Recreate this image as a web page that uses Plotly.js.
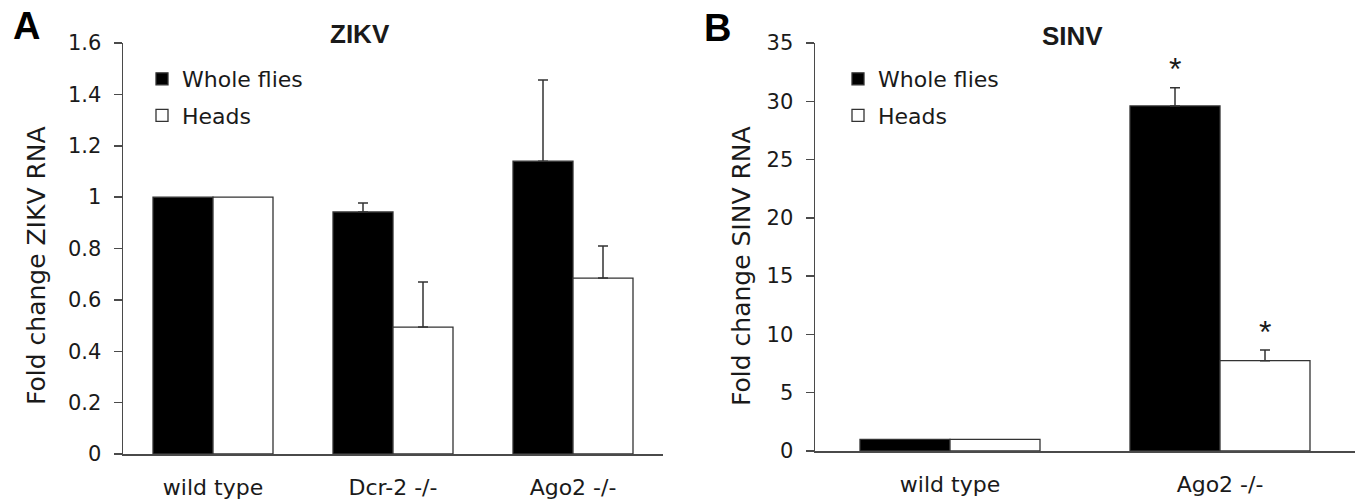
<!DOCTYPE html>
<html>
<head>
<meta charset="utf-8">
<script src="https://cdn.plot.ly/plotly-3.0.1.min.js"></script>
<style>html,body{margin:0;padding:0;background:#fff;}#chart{width:1360px;height:502px;}</style>
</head>
<body>
<div id="chart"></div>
<script>
// ---- data ----
const categoriesA = ['wild type', 'Dcr-2 -/-', 'Ago2 -/-'];
const wholeA = [1.00, 0.942, 1.14];
const wholeErrA = [NaN, 0.035, 0.316];
const headsA = [1.00, 0.494, 0.685];
const headsErrA = [NaN, 0.176, 0.125];

const categoriesB = ['wild type', 'Ago2 -/-'];
const wholeB = [1.00, 29.6];
const wholeErrB = [NaN, 1.57];
const headsB = [1.00, 7.75];
const headsErrB = [NaN, 0.91];
const sigWholeB = [false, true];
const sigHeadsB = [false, true];

const seriesNames = ['Whole flies', 'Heads'];
const yTicksA = [0, 0.2, 0.4, 0.6, 0.8, 1, 1.2, 1.4, 1.6];
const yTicksB = [0, 5, 10, 15, 20, 25, 30, 35];
const yTitleA = 'Fold change ZIKV RNA';
const yTitleB = 'Fold change SINV RNA';

// ---- style ----
const FONT = 'DejaVu Sans, Liberation Sans, Arial, sans-serif';
const BOLD = 'Liberation Sans, Arial, sans-serif';
const TXT = '#1a1a1a';
const AX = '#4a4a4a';
const BARGAP = 1/3;

function err(arr) {
  return {type: 'data', symmetric: false, array: arr, color: '#333', thickness: 1.5, width: 5};
}
function bar(name, cats, vals, errs, fill, xa, ya, legend, group) {
  return {
    type: 'bar', name: name, x: cats, y: vals, xaxis: xa, yaxis: ya,
    marker: {color: fill, line: {color: '#333', width: 1.3}},
    error_y: err(errs), legend: legend, showlegend: true, legendgroup: group,
    hoverinfo: 'x+y+name'
  };
}

const data = [
  bar(seriesNames[0], categoriesA, wholeA, wholeErrA, '#000000', 'x', 'y', 'legend', 'a1'),
  bar(seriesNames[1], categoriesA, headsA, headsErrA, '#ffffff', 'x', 'y', 'legend', 'a2'),
  bar(seriesNames[0], categoriesB, wholeB, wholeErrB, '#000000', 'x2', 'y2', 'legend2', 'b1'),
  bar(seriesNames[1], categoriesB, headsB, headsErrB, '#ffffff', 'x2', 'y2', 'legend2', 'b2')
];

// significance stars placed above error bars (bar offset derived from bargap)
const half = (1 - BARGAP) / 4;
const annotations = [];
categoriesB.forEach((c, i) => {
  if (sigWholeB[i]) annotations.push({xref: 'x2', yref: 'y2', x: i - half, y: wholeB[i] + wholeErrB[i],
    text: '*', showarrow: false, yanchor: 'bottom', yshift: -1, font: {family: BOLD, size: 32, color: TXT}});
  if (sigHeadsB[i]) annotations.push({xref: 'x2', yref: 'y2', x: i + half, y: headsB[i] + headsErrB[i],
    text: '*', showarrow: false, yanchor: 'bottom', yshift: -2, font: {family: BOLD, size: 32, color: TXT}});
});
// panel letters, titles, y-axis titles
annotations.push(
  {xref: 'paper', yref: 'paper', x: 26/1360, y: 1 - 26/502, text: '<b>A</b>', showarrow: false,
   xanchor: 'center', yanchor: 'middle', font: {family: BOLD, size: 38, color: '#000'}},
  {xref: 'paper', yref: 'paper', x: 717/1360, y: 1 - 28/502, text: '<b>B</b>', showarrow: false,
   xanchor: 'center', yanchor: 'middle', font: {family: BOLD, size: 38, color: '#000'}},
  {xref: 'paper', yref: 'paper', x: 360/1360, y: 1 - 34/502, text: '<b>ZIKV</b>', showarrow: false,
   xanchor: 'center', yanchor: 'middle', font: {family: BOLD, size: 26, color: TXT}},
  {xref: 'paper', yref: 'paper', x: 1072/1360, y: 1 - 36/502, text: '<b>SINV</b>', showarrow: false,
   xanchor: 'center', yanchor: 'middle', font: {family: BOLD, size: 26, color: TXT}},
  {xref: 'paper', yref: 'paper', x: 36/1360, y: 1 - 266/502, text: yTitleA, textangle: -90, showarrow: false,
   xanchor: 'center', yanchor: 'middle', font: {family: FONT, size: 25, color: TXT}},
  {xref: 'paper', yref: 'paper', x: 741/1360, y: 1 - 266/502, text: yTitleB, textangle: -90, showarrow: false,
   xanchor: 'center', yanchor: 'middle', font: {family: FONT, size: 25, color: TXT}}
);

function yax(domain, range, ticks, anchor) {
  return {
    domain: domain, range: range, tickvals: ticks, ticktext: ticks.map(String), anchor: anchor,
    showline: true, linecolor: AX, linewidth: 1.5, ticks: 'outside', ticklen: 8, tickwidth: 1.5, tickcolor: AX,
    showgrid: false, zeroline: false, automargin: false, ticklabelstandoff: 8,
    tickfont: {family: FONT, size: 21, color: TXT}, fixedrange: true
  };
}
function xax(domain, range, anchor) {
  return {
    domain: domain, range: range, anchor: anchor, type: 'category',
    showline: true, linecolor: AX, linewidth: 1.5, ticks: '', showgrid: false, zeroline: false,
    automargin: false, ticklabelstandoff: 13,
    tickfont: {family: FONT, size: 22, color: TXT}, fixedrange: true
  };
}

const legendBase = {
  font: {family: FONT, size: 22, color: TXT}, bgcolor: 'rgba(0,0,0,0)', borderwidth: 0,
  traceorder: 'grouped', tracegroupgap: 5, xanchor: 'left', yanchor: 'top', itemwidth: 30
};

const layout = {
  width: 1360, height: 502,
  margin: {l: 0, r: 0, t: 0, b: 0},
  paper_bgcolor: '#fff', plot_bgcolor: 'rgba(0,0,0,0)',
  barmode: 'group', bargap: BARGAP, bargroupgap: 0,
  xaxis: xax([123/1360, 663/1360], [-0.5, categoriesA.length - 0.5], 'y'),
  yaxis: yax([48/502, 459/502], [0, 1.6], yTicksA, 'x'),
  xaxis2: xax([815/1360, 1355/1360], [-0.5, categoriesB.length - 0.5], 'y2'),
  yaxis2: yax([51/502, 459/502], [0, 35], yTicksB, 'x2'),
  legend: Object.assign({x: 142/1360, y: 1 - 58/502}, legendBase),
  legend2: Object.assign({x: 838/1360, y: 1 - 58/502}, legendBase),
  annotations: annotations,
  font: {family: FONT, color: TXT}
};

Plotly.newPlot('chart', data, layout, {displayModeBar: false, staticPlot: true});
</script>
</body>
</html>
